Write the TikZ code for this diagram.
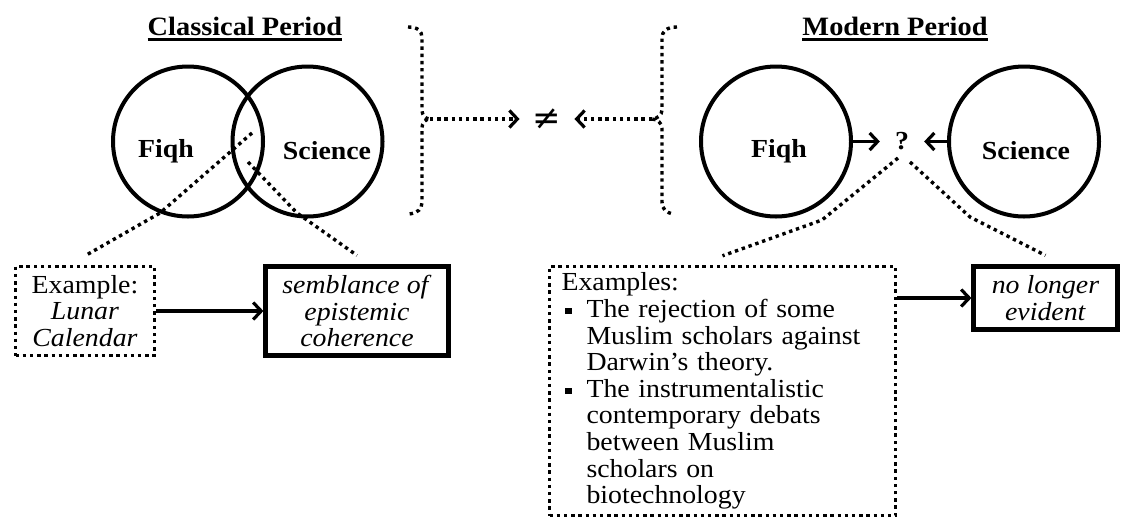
\documentclass[tikz,border=0pt]{standalone}
\usepackage{fontspec}
\setmainfont{Liberation Serif}[FakeStretch=1.07]
\newfontfamily\symbolfont{DejaVu Sans}
\usetikzlibrary{arrows.meta}

\newcommand{\ultitle}[1]{\setbox0=\hbox{#1}\rlap{\rule[-5pt]{\wd0}{2.2pt}}\box0}
\newcommand{\exbullet}{\rule[3pt]{6.5pt}{6.5pt}}

\begin{document}
\begin{tikzpicture}[x=1pt,y=-1pt,font=\fontsize{26}{26.6}\selectfont,
  titletext/.style={font=\fontsize{26.5}{30}\selectfont\bfseries},
  boldtext/.style={font=\fontsize{26}{26.6}\selectfont\bfseries},
  venn/.style={draw,circle,line width=4pt,minimum size=150pt,inner sep=0pt},
  dots/.style={line width=3.4pt,dash pattern=on 3.4pt off 3.8pt},
  dotbox/.style={draw,dots,inner sep=4pt},
  solidbox/.style={draw,line width=4.2pt,inner sep=4pt},
  arr/.style={line width=3.2pt,-{Straight Barb[length=8pt,width=17pt]}},
  dotarr/.style={dots,-{Straight Barb[length=8pt,width=17pt,line width=3.2pt]}}]
\path[use as bounding box] (0,0) rectangle (1121,520);

% classical period
\node[titletext] (classical) at (245,29) {\ultitle{Classical Period}};
\node[venn] (fiqhA) at (188,141.5) {};
\node[venn] (sciA) at (307.5,141.5) {};
\node[boldtext] (fiqhAtext) at (166,151) {Fiqh};
\node[boldtext] (sciAtext) at (327,151) {Science};

\node[dotbox,minimum width=139pt,minimum height=89pt,align=center] (lunar) at (85,311)
  {Example:\\\textit{Lunar}\\\textit{Calendar}};
\node[solidbox,minimum width=183pt,minimum height=89pt,align=center] (coherence) at (357,311)
  {\textit{semblance of}\\\textit{epistemic}\\\textit{coherence}};
\draw[arr] (lunar) -- (coherence);

\coordinate (vennL) at (252,133);
\coordinate (vennR) at (248,162);
\draw[dots] (vennL) -- (160,213) -- ([yshift=9pt]lunar.north);
\draw[dots] (vennR) -- (297,213) -- ([yshift=9pt]coherence.north);

% braces and not equal
\coordinate (lbtip) at (430,119);
\coordinate (rbtip) at (652,119);
\draw[dots] (408,27) .. controls (418,27) and (422,31) .. (422,38) -- (422,110)
  .. controls (422,115) and (425,119) .. (lbtip) .. controls (425,119) and (422,123) .. (422,128)
  -- (422,202) .. controls (422,209) and (418,213) .. (409,214);
\draw[dots] (677,27) .. controls (667,27) and (662,31) .. (662,38) -- (662,110)
  .. controls (662,115) and (657,119) .. (rbtip) .. controls (657,119) and (662,123) .. (662,128)
  -- (662,202) .. controls (662,209) and (666,213) .. (674,214);
\node[font=\symbolfont\fontsize{34}{34}\selectfont,inner xsep=13pt] (neq) at (547,119) {≠};
\draw[dotarr] (lbtip) -- (neq);
\draw[dotarr] (rbtip) -- (neq);

% modern period
\node[titletext] (modern) at (895,29) {\ultitle{Modern Period}};
\node[venn] (fiqhB) at (776,141.5) {};
\node[venn] (sciB) at (1024,141.5) {};
\node[boldtext] (fiqhBtext) at (779,151) {Fiqh};
\node[boldtext] (sciBtext) at (1026,151) {Science};
\node[boldtext,inner sep=15pt] (qmark) at (902,141.5) {?};
\draw[arr] (fiqhB) -- (qmark);
\draw[arr] (sciB) -- (qmark);

\node[dotbox,minimum width=346pt,minimum height=249pt,inner xsep=12pt,text width=322pt,align=left] (examples) at (722.5,391)
  {Examples:\par
   \begin{list}{}{\leftmargin=25pt\labelwidth=10pt\labelsep=15pt\topsep=0pt\partopsep=0pt\itemsep=0pt\parsep=0pt}
   \item[\exbullet] The rejection of some\\Muslim scholars against\\Darwin's theory.
   \item[\exbullet] The instrumentalistic\\contemporary debats\\between Muslim\\scholars on\\biotechnology
   \end{list}};
\node[solidbox,minimum width=144pt,minimum height=63pt,align=center] (nolonger) at (1045.5,298)
  {\textit{no longer}\\\textit{evident}};
\draw[arr] (examples.east |- nolonger) -- (nolonger);

\coordinate (qmarkL) at (898,158);
\coordinate (qmarkR) at (910,162);
\draw[dots] (qmarkL) -- (822,220) -- ([yshift=9pt]examples.north);
\draw[dots] (qmarkR) -- (970,217) -- ([yshift=9pt]nolonger.north);
\end{tikzpicture}
\end{document}
